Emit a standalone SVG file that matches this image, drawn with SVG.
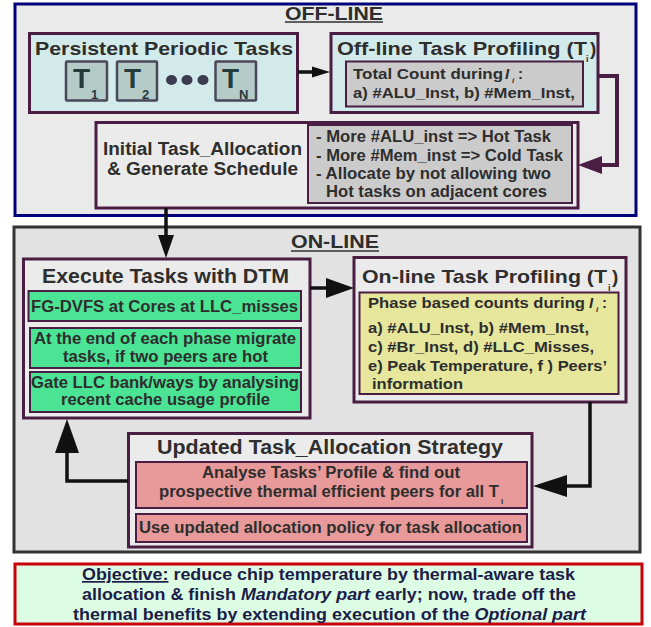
<svg xmlns="http://www.w3.org/2000/svg" width="651" height="627" viewBox="0 0 651 627">
<defs>
<style>
text{font-family:"Liberation Sans",Arial,sans-serif;font-weight:bold;fill:#2e2e2e}
.node{stroke:#4a1d42;stroke-width:3}
.inner{stroke:#4a1d42;stroke-width:2}
.cyan{fill:#d3eaea}
.gray{fill:#ebebeb}
.dgray{fill:#cbcbcb}
.green{fill:#4be394}
.yellow{fill:#e6e69c}
.pink{fill:#e89a9a}
.tbox{fill:#b5cbc8;stroke:#484858;stroke-width:2.5}
.tl{font-size:28px;fill:#263b3b}
.ts{font-size:13px;fill:#263b3b}
.h{font-size:19px}
.b{font-size:16px}
.s{font-size:15px}
.obj{font-size:17px;fill:#1c1c48}
.conn{fill:none;stroke:#111;stroke-width:3.5}
.connp{fill:none;stroke:#4a1d42;stroke-width:4}
</style>
</defs>
<rect width="651" height="627" fill="#ffffff"/>

<g id="offline-panel">
<rect x="15" y="4" width="621" height="211.5" fill="#eaeaea" stroke="#00007a" stroke-width="3"/>
<text x="285" y="19.5" class="h" style="font-size:18px" textLength="98" lengthAdjust="spacingAndGlyphs">OFF-LINE</text>
<line x1="285" y1="22" x2="383" y2="22" stroke="#2e2e2e" stroke-width="1.4"/>
</g>

<g id="online-panel">
<rect x="14" y="227" width="626" height="325" fill="#e2e2e2" stroke="#333" stroke-width="3"/>
<text x="291" y="248" class="h" textLength="88" lengthAdjust="spacingAndGlyphs">ON-LINE</text>
<line x1="291" y1="251" x2="379" y2="251" stroke="#2e2e2e" stroke-width="1.4"/>
</g>

<g id="persistent-tasks">
<rect x="29.5" y="33.5" width="268" height="79" class="node cyan"/>
<text x="35" y="55" class="h" textLength="258" lengthAdjust="spacingAndGlyphs">Persistent Periodic Tasks</text>
<rect x="66" y="61.5" width="41" height="39" rx="1" class="tbox"/>
<text x="73" y="88" class="tl">T</text><text x="91" y="99" class="ts">1</text>
<rect x="117" y="61.5" width="40" height="39" rx="1" class="tbox"/>
<text x="124" y="88" class="tl">T</text><text x="142" y="99" class="ts">2</text>
<ellipse cx="171.5" cy="80" rx="5.5" ry="5" fill="#3b3b50"/>
<ellipse cx="187" cy="80" rx="5.5" ry="5" fill="#3b3b50"/>
<ellipse cx="203" cy="80" rx="5.5" ry="5" fill="#3b3b50"/>
<rect x="215.5" y="61.5" width="40.5" height="39" rx="1" class="tbox"/>
<text x="222" y="88" class="tl">T</text><text x="239" y="99" class="ts">N</text>
</g>

<g id="offline-profiling">
<rect x="331" y="33.5" width="267" height="79" class="node cyan"/>
<text x="337" y="55" class="h" textLength="250" lengthAdjust="spacingAndGlyphs">Off-line Task Profiling (T</text>
<text x="586" y="62" style="font-size:9px">i</text>
<text x="590" y="55" class="h">)</text>
<rect x="346" y="61.5" width="237" height="45" class="inner dgray"/>
<text x="353" y="79" class="s" textLength="150" lengthAdjust="spacingAndGlyphs">Total Count during</text>
<text x="505" y="79" class="s" font-style="italic">I</text>
<text x="512" y="83" style="font-size:8px" font-style="italic">i</text>
<text x="518" y="79" class="s">:</text>
<text x="353" y="98" class="s" textLength="222" lengthAdjust="spacingAndGlyphs">a) #ALU_Inst, b) #Mem_Inst,</text>
</g>

<g id="initial-allocation">
<rect x="96" y="122.5" width="482" height="85.5" class="node gray"/>
<text x="103" y="155" class="h" style="font-size:18px" textLength="199" lengthAdjust="spacingAndGlyphs">Initial Task_Allocation</text>
<text x="107" y="175" class="h" style="font-size:18px" textLength="191" lengthAdjust="spacingAndGlyphs">&amp; Generate Schedule</text>
<rect x="308" y="125" width="264" height="78" class="inner dgray"/>
<text x="316" y="142" class="b" textLength="235" lengthAdjust="spacingAndGlyphs">- More #ALU_inst =&gt; Hot Task</text>
<text x="316" y="161" class="b" textLength="247" lengthAdjust="spacingAndGlyphs">- More #Mem_inst =&gt; Cold Task</text>
<text x="316" y="179" class="b" textLength="235" lengthAdjust="spacingAndGlyphs">- Allocate by not allowing two</text>
<text x="326" y="197" class="b" textLength="221" lengthAdjust="spacingAndGlyphs">Hot tasks on adjacent cores</text>
</g>

<g id="execute-dtm">
<rect x="23.5" y="259" width="286.5" height="159" class="node gray"/>
<text x="42" y="283" class="h" style="font-size:20px" textLength="247" lengthAdjust="spacingAndGlyphs">Execute Tasks with DTM</text>
<rect x="28.5" y="291" width="272.5" height="30" class="inner green"/>
<text x="31" y="312" class="b" textLength="267" lengthAdjust="spacingAndGlyphs">FG-DVFS at Cores at LLC_misses</text>
<rect x="30" y="328" width="271" height="40" class="inner green"/>
<text x="34" y="344" class="b" textLength="262" lengthAdjust="spacingAndGlyphs">At the end of each phase migrate</text>
<text x="63" y="362" class="b" textLength="205" lengthAdjust="spacingAndGlyphs">tasks, if two peers are hot</text>
<rect x="30" y="372" width="271" height="40" class="inner green"/>
<text x="31" y="388" class="b" textLength="268" lengthAdjust="spacingAndGlyphs">Gate LLC bank/ways by analysing</text>
<text x="61" y="405" class="b" textLength="209" lengthAdjust="spacingAndGlyphs">recent cache usage profile</text>
</g>

<g id="online-profiling">
<rect x="354" y="257.5" width="272" height="144.5" class="node gray"/>
<text x="362" y="283" class="h" textLength="245" lengthAdjust="spacingAndGlyphs">On-line Task Profiling (T</text>
<text x="608" y="291" style="font-size:9px">i</text>
<text x="612" y="283" class="h">)</text>
<rect x="359.5" y="292.5" width="259" height="101.5" class="inner yellow"/>
<text x="368" y="308" class="s" textLength="217" lengthAdjust="spacingAndGlyphs">Phase based counts during</text>
<text x="589" y="308" class="s" font-style="italic">I</text>
<text x="596" y="312" style="font-size:8px" font-style="italic">i</text>
<text x="602" y="308" class="s">:</text>
<text x="368" y="333" class="s" textLength="221" lengthAdjust="spacingAndGlyphs">a) #ALU_Inst, b) #Mem_Inst,</text>
<text x="368" y="352" class="s" textLength="226" lengthAdjust="spacingAndGlyphs">c) #Br_Inst, d) #LLC_Misses,</text>
<text x="368" y="371" class="s" textLength="239" lengthAdjust="spacingAndGlyphs">e) Peak Temperature, f ) Peers’</text>
<text x="372" y="389" class="s" textLength="91" lengthAdjust="spacingAndGlyphs">information</text>
</g>

<g id="updated-allocation">
<rect x="128.5" y="433.5" width="403.5" height="113.5" class="node gray"/>
<text x="157" y="454" class="h" style="font-size:20px" textLength="346" lengthAdjust="spacingAndGlyphs">Updated Task_Allocation Strategy</text>
<rect x="136" y="462" width="391" height="46" class="inner pink"/>
<text x="202" y="478" class="b" textLength="258" lengthAdjust="spacingAndGlyphs">Analyse Tasks’ Profile &amp; find out</text>
<text x="159" y="497" class="b" textLength="340" lengthAdjust="spacingAndGlyphs">prospective thermal efficient peers for all T</text>
<text x="501" y="504" style="font-size:8px">i</text>
<rect x="136" y="514" width="391" height="28" class="inner pink"/>
<text x="139" y="533" class="b" style="font-size:17px" textLength="383" lengthAdjust="spacingAndGlyphs">Use updated allocation policy for task allocation</text>
</g>

<g id="objective">
<rect x="15" y="564" width="627" height="60" fill="#dcfce4" stroke="#c8000a" stroke-width="3"/>
<text x="82" y="580" class="obj" textLength="493" lengthAdjust="spacingAndGlyphs"><tspan text-decoration="underline">Objective:</tspan> reduce chip temperature by thermal-aware task</text>
<text x="82" y="600" class="obj" textLength="494" lengthAdjust="spacingAndGlyphs">allocation &amp; finish <tspan font-style="italic">Mandatory part</tspan> early; now, trade off the</text>
<text x="73" y="620" class="obj" textLength="513" lengthAdjust="spacingAndGlyphs">thermal benefits by extending execution of the <tspan font-style="italic">Optional part</tspan></text>
</g>

<g id="connectors">
<line x1="298" y1="72" x2="315" y2="72" class="conn"/>
<polygon points="330,72 312,66.5 312,77.5" fill="#111"/>
<path d="M598 76 H617 V165 H600" class="connp"/>
<polygon points="578,165 602,156 602,174" fill="#4a1d42"/>
<line x1="166" y1="208" x2="166" y2="238" class="conn"/>
<polygon points="166,258 158,235 174,235" fill="#111"/>
<line x1="310" y1="288" x2="330" y2="288" class="conn"/>
<polygon points="354,288 326,278 326,298" fill="#111"/>
<path d="M590 402 V486 H565" class="conn"/>
<polygon points="533,486 567,475 567,497" fill="#111"/>
<path d="M128 481 H67 V450" class="conn"/>
<polygon points="67,419 55,453 79,453" fill="#111"/>
</g>
</svg>
